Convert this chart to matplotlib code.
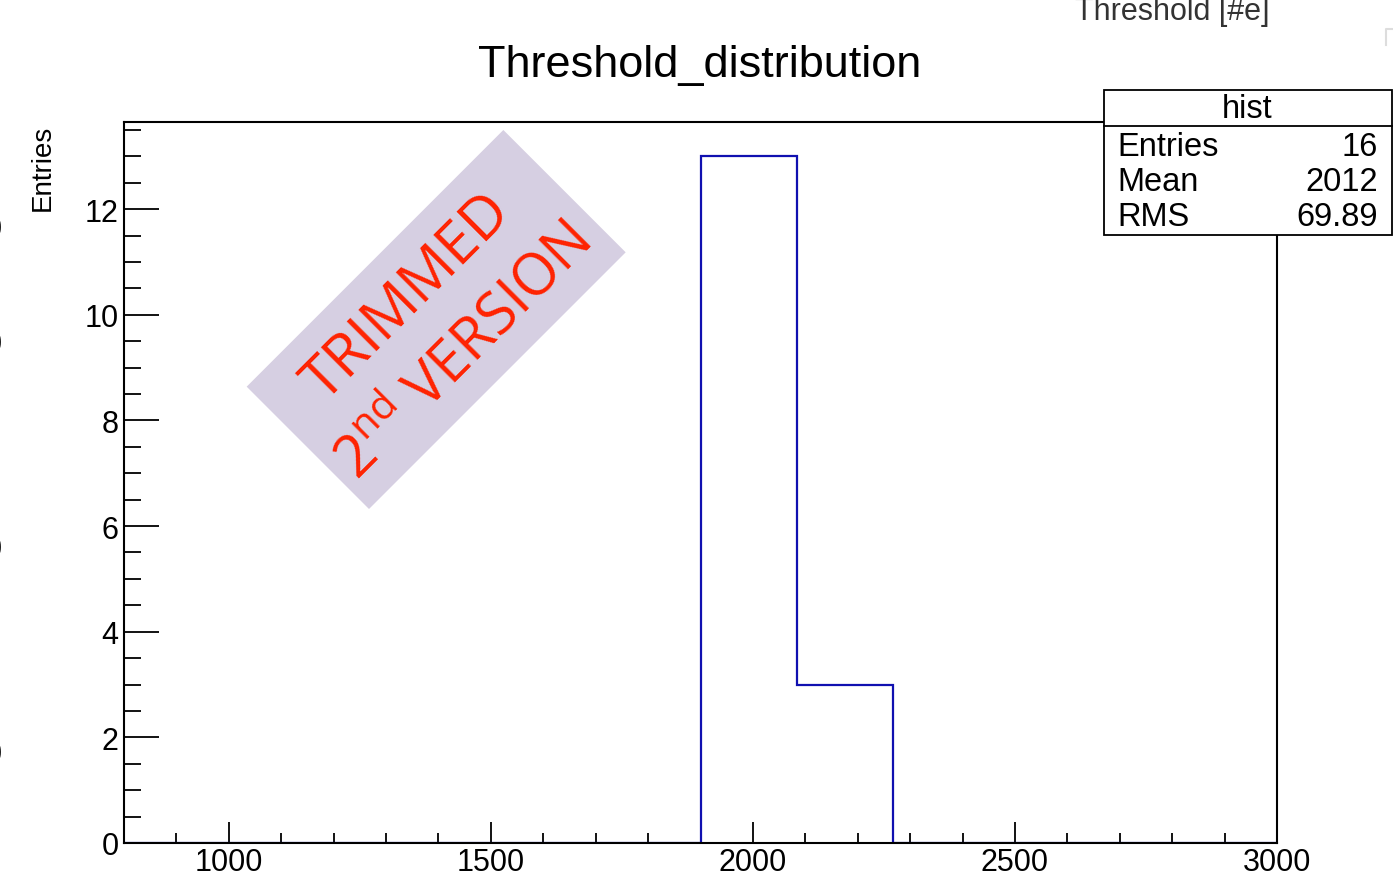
import matplotlib.pyplot as plt
import matplotlib.patches as mpatches
from matplotlib.transforms import IdentityTransform
import numpy as np

plt.rcParams['font.family'] = ['Liberation Sans', 'DejaVu Sans']
plt.rcParams['mathtext.fontset'] = 'custom'
plt.rcParams['mathtext.rm'] = 'Open Sans'

# histogram: 12 bins from 800 to 3000
bin_lo, bin_hi, n_bins = 800, 3000, 12
counts = [0, 0, 0, 0, 0, 0, 13, 3, 0, 0, 0, 0]
stat_names = ['Entries', 'Mean', 'RMS']
stat_values = ['16', '2012', '69.89']

edges = np.linspace(bin_lo, bin_hi, n_bins + 1)

W, H = 1393, 878
fig = plt.figure(figsize=(W / 100, H / 100), dpi=100)
ax = fig.add_axes([124 / W, 1 - 844 / H, (1277 - 124) / W, (844 - 123) / H])

# spines sit on top of the outline so the zero baseline stays black
ax.stairs(counts, edges, color='#1010b0', linewidth=1.6, zorder=2)

ax.set_xlim(bin_lo, bin_hi)
ax.set_ylim(0, 1.05 * max(counts))
ax.set_xticks(np.arange(1000, 3001, 500))
ax.set_xticks(np.arange(900, 3001, 100), minor=True)
ax.set_yticks(np.arange(0, 13, 2))
ax.set_yticks(np.arange(0, 13.6, 0.5), minor=True)

for s in ax.spines.values():
    s.set_linewidth(1.5)
    s.set_zorder(3)
ax.tick_params(axis='both', which='both', direction='in', width=1.3,
               labelsize=22, top=False, right=False)
ax.tick_params(axis='x', which='major', length=15, pad=3)
ax.tick_params(axis='x', which='minor', length=7.2)
ax.tick_params(axis='y', which='major', length=25, pad=4)
ax.tick_params(axis='y', which='minor', length=12)

# axis titles placed like ROOT does (at the axis ends)
fig.text(43 / W, 1 - 125 / H, 'Entries', rotation=90, ha='center', va='top', fontsize=20)
fig.text(1172 / W, 1 - 20 / H, 'Threshold [#e]', ha='center', va='baseline',
         fontsize=22, color='#333333')
fig.text(700 / W, 1 - 77 / H, 'Threshold_distribution', ha='center', va='baseline', fontsize=32.5)

# stats box
box = mpatches.Rectangle((1104 / W, 1 - 236 / H), (1392 - 1104) / W, (236 - 91) / H,
                         transform=fig.transFigure, facecolor='white', edgecolor='black',
                         linewidth=1.3, zorder=10)
fig.add_artist(box)
fig.add_artist(plt.Line2D([1104 / W, 1392 / W], [1 - 127 / H, 1 - 127 / H],
                          transform=fig.transFigure, color='black', linewidth=1.3, zorder=11))
fig.text(1247 / W, 1 - 110 / H, 'hist', ha='center', va='center', fontsize=23.5, zorder=12)
for i, (name, val) in enumerate(zip(stat_names, stat_values)):
    y = 1 - (148 + 34.5 * i) / H
    fig.text(1117 / W, y, name, ha='left', va='center', fontsize=23.5, zorder=12)
    fig.text(1378 / W, y, val, ha='right', va='center', fontsize=23.5, zorder=12)

# watermark banner
banner = mpatches.Rectangle((369, H - 510), 363, 173, angle=45,
                            transform=IdentityTransform(), facecolor='#d6cfe2',
                            edgecolor='none', zorder=5)
fig.add_artist(banner)
fig.text(408 / W, 1 - 298 / H, 'TRIMMED', rotation=45, rotation_mode='anchor',
         ha='center', va='center', fontsize=42.5, color='#ff2200', family='Open Sans', zorder=6)
fig.text(464 / W, 1 - 352 / H, r'2$^{\rm nd}$ VERSION', rotation=45, rotation_mode='anchor',
         ha='center', va='center', fontsize=41.5, color='#ff2200', family='Open Sans', zorder=6)

# bits of a neighbouring panel cut off at the left edge
for yy in [230, 345, 550, 755]:
    fig.text(-15 / W, 1 - yy / H, '0', ha='left', va='center', fontsize=22)
fig.add_artist(plt.Line2D([1386 / W, 1386 / W, 1393 / W], [1 - 46 / H, 1 - 30 / H, 1 - 30 / H],
                          transform=fig.transFigure, color='#dddddd', linewidth=1.5))

fig.savefig('out.png', dpi=100)
